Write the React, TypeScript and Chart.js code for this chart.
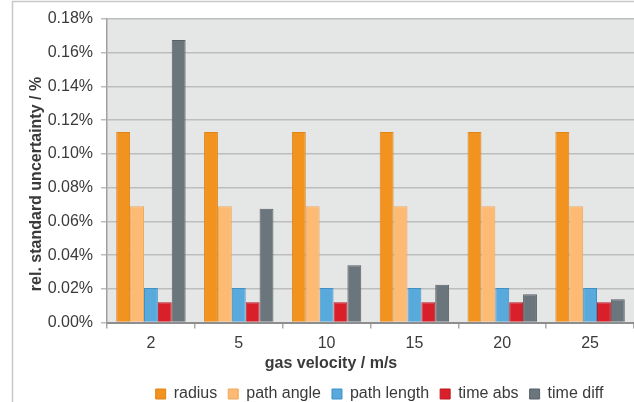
import React, { useEffect, useRef } from "react";
import { Chart, registerables } from "chart.js";

Chart.register(...registerables);

const categories = ["2", "5", "10", "15", "20", "25"];
const radius = [0.113, 0.113, 0.113, 0.113, 0.113, 0.113];
const pathAngle = [0.069, 0.069, 0.069, 0.069, 0.069, 0.069];
const pathLength = [0.0205, 0.0205, 0.0205, 0.0205, 0.0205, 0.0205];
const timeAbs = [0.012, 0.012, 0.012, 0.012, 0.012, 0.012];
const timeDiff = [0.1675, 0.0675, 0.034, 0.0225, 0.0168, 0.0138];

const xTitle = "gas velocity / m/s";
const yTitle = "rel. standard uncertainty / %";

const FONT = "'Liberation Sans', Arial, sans-serif";
const TEXT = "#3A3A3A";

const framePlugin = {
  id: "frame",
  beforeDraw(chart: any) {
    const { ctx, chartArea } = chart;
    ctx.save();
    ctx.fillStyle = "#E5E6E6";
    ctx.fillRect(chartArea.left, chartArea.top, chartArea.right - chartArea.left, chartArea.bottom - chartArea.top);
    ctx.strokeStyle = "#C8C8C8";
    ctx.lineWidth = 1.5;
    ctx.beginPath();
    ctx.moveTo(12.5, 402);
    ctx.lineTo(12.5, 1.5);
    ctx.lineTo(634, 1.5);
    ctx.stroke();
    ctx.restore();
  },
  afterLayout(chart: any) {
    const lg = chart.legend;
    if (lg) {
      lg.left += 50;
      lg.right += 50;
      lg.top -= 2;
      lg.bottom -= 2;
    }
  },
  afterDraw(chart: any) {
    const { ctx } = chart;
    ctx.save();
    ctx.fillStyle = TEXT;
    ctx.font = `bold 16px ${FONT}`;
    ctx.textAlign = "center";
    ctx.textBaseline = "middle";
    ctx.fillText(xTitle, 331, 364);
    ctx.translate(37, 184);
    ctx.rotate(-Math.PI / 2);
    ctx.fillText(yTitle, 0, 0);
    ctx.restore();
  },
};

export default function App() {
  const ref = useRef<HTMLCanvasElement>(null);
  useEffect(() => {
    document.body.style.margin = "0";
    const ds = (label: string, data: number[], bg: string, bd: string) => ({
      label,
      data,
      backgroundColor: bg,
      borderColor: bd,
      borderWidth: 1,
      barPercentage: 1,
      categoryPercentage: 0.79,
    });
    const chart = new Chart(ref.current!, {
      type: "bar",
      data: {
        labels: categories,
        datasets: [
          ds("radius", radius, "#F29320", "#DE8418"),
          ds("path angle", pathAngle, "#FDBA73", "#F0A85C"),
          ds("path length", pathLength, "#58A9DC", "#3F90C6"),
          ds("time abs", timeAbs, "#D9202A", "#BE1820"),
          ds("time diff", timeDiff, "#6B757C", "#596167"),
        ],
      },
      options: {
        animation: false,
        responsive: false,
        layout: { padding: { left: 25, top: 19, right: 0, bottom: -12 } },
        plugins: {
          tooltip: { enabled: false },
          legend: {
            position: "bottom",
            labels: {
              boxWidth: 10,
              boxHeight: 10,
              padding: 11,
              color: TEXT,
              font: { family: FONT, size: 16 },
            },
          },
        },
        scales: {
          x: {
            grid: { drawOnChartArea: false, drawTicks: true, tickLength: 6, color: "#A8A8A8", lineWidth: 1.5, offset: true },
            border: { color: "#8E8E8E", width: 2 },
            ticks: { color: TEXT, font: { family: FONT, size: 16 }, padding: 5 },
            title: {
              display: true,
              text: xTitle,
              color: "rgba(0,0,0,0)",
              font: { family: FONT, size: 16, weight: "bold" },
              padding: { top: 0, bottom: 0 },
            },
          },
          y: {
            min: 0,
            max: 0.18,
            afterFit: (s: any) => {
              s.width = 82;
            },
            grid: { color: "#BDBDBD", lineWidth: 1.5, tickLength: 6 },
            border: { color: "#A0A0A0", width: 1.5 },
            ticks: {
              stepSize: 0.02,
              color: TEXT,
              padding: 8,
              font: { family: FONT, size: 16 },
              callback: (v: any) => Number(v).toFixed(2) + "%",
            },
            title: { display: false, text: yTitle },
          },
        },
      },
      plugins: [framePlugin],
    });
    return () => chart.destroy();
  }, []);
  return (
    <div style={{ width: 634, height: 402, position: "relative", background: "#fff", overflow: "hidden" }}>
      <canvas ref={ref} width={634} height={402} style={{ display: "block", width: 634, height: 402 }} />
    </div>
  );
}
